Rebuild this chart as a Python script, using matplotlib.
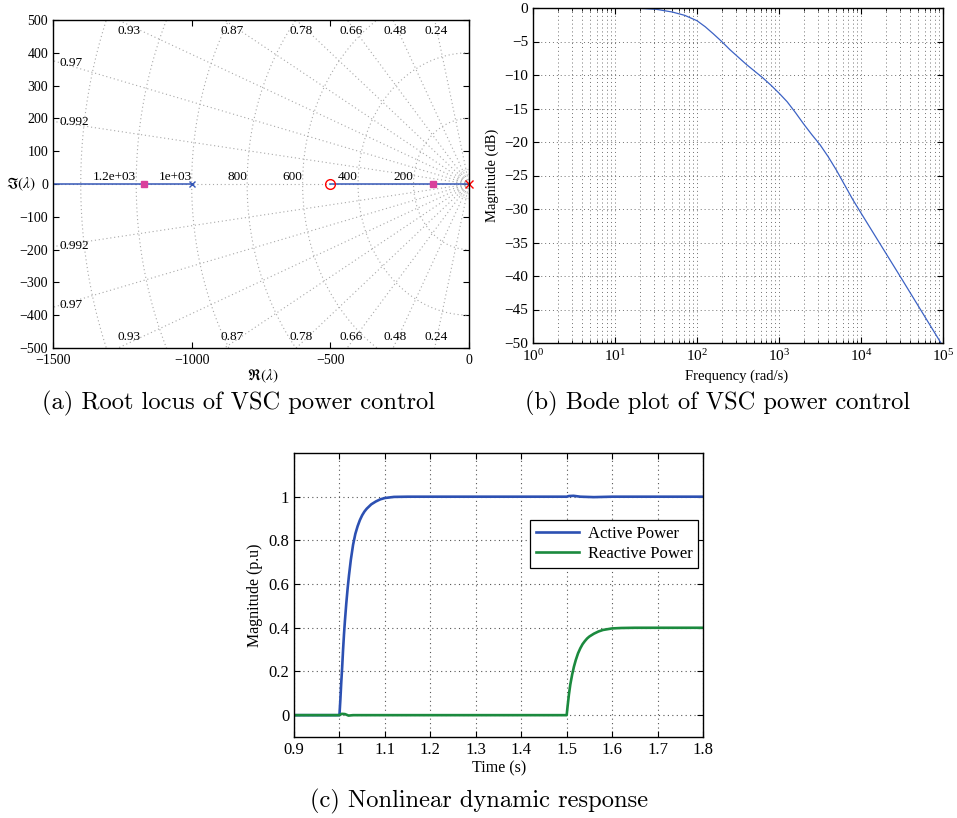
import numpy as np
import matplotlib
matplotlib.use('Agg')
import matplotlib.pyplot as plt
from matplotlib.ticker import LogLocator, NullFormatter, FuncFormatter

# ---------------- data ----------------
# (a) root locus
zeta_values = [0.24, 0.48, 0.66, 0.78, 0.87, 0.93, 0.97, 0.992]
wn_values = [200, 400, 600, 800, 1000, 1200, 1400]
wn_labels = ['200', '400', '600', '800', '1e+03', '1.2e+03', '']
small_wn = [15, 30, 45]
branch1_x = [-1500, -1000]
branch2_x = [-500, 0]
open_pole_blue = [-1000]
open_pole_red = [0]
open_zero_red = [-500]
selected_poles = [-1172, -130]

# (b) bode magnitude
bode_w = [1, 10, 20, 32, 50, 71, 100, 126, 158, 200, 251, 316, 398, 501, 631,
          794, 1000, 1259, 1585, 1995, 2512, 3162, 3981, 5012, 6310, 7943,
          10000, 31623, 100000]
bode_db = [0, -0.01, -0.05, -0.2, -0.6, -1.1, -1.9, -2.8, -3.85, -5.0, -6.2,
           -7.3, -8.4, -9.4, -10.4, -11.5, -12.7, -14.0, -15.6, -17.3, -18.9,
           -20.4, -22.2, -24.2, -26.4, -28.6, -30.6, -40.5, -50.5]

# (c) nonlinear dynamic response
t_p = [0.9, 1.0, 1.002, 1.004, 1.006, 1.008, 1.010, 1.012, 1.015, 1.018,
       1.021, 1.025, 1.03, 1.035, 1.04, 1.045, 1.05, 1.055, 1.06, 1.07, 1.08,
       1.09, 1.1, 1.12, 1.15, 1.5, 1.505, 1.515, 1.53, 1.56, 1.6, 1.8]
p_val = [0, 0, 0.07, 0.15, 0.22, 0.30, 0.37, 0.43, 0.51, 0.58,
         0.64, 0.71, 0.78, 0.83, 0.865, 0.893, 0.915, 0.932, 0.945, 0.965, 0.978,
         0.988, 0.994, 0.999, 1.0, 1.0, 1.003, 1.004, 1.0, 0.998, 1.0, 1.0]
t_q = [0.9, 1.0, 1.005, 1.012, 1.02, 1.03, 1.5, 1.502, 1.505, 1.508, 1.512,
       1.516, 1.52, 1.525, 1.53, 1.535, 1.54, 1.545, 1.55, 1.56, 1.57, 1.58,
       1.6, 1.62, 1.65, 1.8]
q_val = [0, 0, 0.006, 0.005, -0.002, 0, 0, 0.04, 0.095, 0.14, 0.185,
         0.222, 0.252, 0.283, 0.306, 0.325, 0.339, 0.351, 0.36, 0.373, 0.383, 0.39,
         0.397, 0.399, 0.4, 0.4]

# ---------------- style ----------------
plt.rcParams['font.family'] = ['Liberation Serif', 'DejaVu Serif']
plt.rcParams['mathtext.fontset'] = 'stix'
plt.rcParams['xtick.direction'] = 'in'
plt.rcParams['ytick.direction'] = 'in'
plt.rcParams['xtick.top'] = True
plt.rcParams['ytick.right'] = True
plt.rcParams['axes.linewidth'] = 1.0

W, H = 957, 818
fig = plt.figure(figsize=(W / 100, H / 100), dpi=100)


def box(l, t, r, b):
    return [l / W, 1 - b / H, (r - l) / W, (b - t) / H]


# ---------------- (a) root locus ----------------
axa = fig.add_axes(box(53, 20, 469, 348))
axa.set_xlim(-1500, 0)
axa.set_ylim(-500, 500)
gcol = '#a8a8a8'
gls = (0, (1, 2.5))
for z in zeta_values:
    th = np.arccos(z)
    L = 4000
    axa.plot([0, -L * np.cos(th)], [0, L * np.sin(th)], ls=gls, color=gcol, lw=0.8)
    axa.plot([0, -L * np.cos(th)], [0, -L * np.sin(th)], ls=gls, color=gcol, lw=0.8)
    tn = np.tan(th)
    xt = -485 / tn
    if xt > -1460:
        axa.text(xt, 485, f'{z:g}', ha='center', va='top', fontsize=9.5)
        axa.text(xt, -485, f'{z:g}', ha='center', va='bottom', fontsize=9.5)
    else:
        yl = 1475 * tn
        axa.text(-1478, yl, f'{z:g}', ha='left', va='center', fontsize=9.5)
        axa.text(-1478, -yl, f'{z:g}', ha='left', va='center', fontsize=9.5)
axa.plot([-1500, 0], [0, 0], ls=gls, color=gcol, lw=0.8)
ang = np.linspace(np.pi / 2, 3 * np.pi / 2, 300)
for r, lab in zip(wn_values, wn_labels):
    axa.plot(r * np.cos(ang), r * np.sin(ang), ls=gls, color=gcol, lw=0.8)
    if lab:
        axa.text(-r, 4, lab, ha='right', va='bottom', fontsize=9.5)
for r in small_wn:
    axa.plot(r * np.cos(ang), r * np.sin(ang), ls=(0, (1, 1)), color='#b0b0b0', lw=0.5)

lc = '#3557b7'
axa.plot(branch1_x, [0, 0], color=lc, lw=1.1)
axa.plot(branch2_x, [0, 0], color=lc, lw=1.1)
axa.plot(open_pole_blue, [0], marker='x', color=lc, ms=5, mew=1.0, ls='none')
axa.plot(open_pole_red, [0], marker='x', color='red', ms=5.5, mew=1.0, ls='none', clip_on=False)
axa.plot(open_zero_red, [0], marker='o', mfc='none', mec='red', ms=7, mew=1.0, ls='none')
axa.plot(selected_poles, [0, 0], marker='s', color='#d9409c', ms=5, ls='none')
axa.set_xticks([-1500, -1000, -500, 0])
axa.set_yticks(np.arange(-500, 501, 100))
axa.tick_params(labelsize=10, length=4, width=0.8)
axa.tick_params(axis='x', pad=4.5)
fig.text(263 / W, 1 - 376 / H, r'$\Re(\lambda)$', ha='center', va='center', fontsize=11)
fig.text(21 / W, 1 - 184 / H, r'$\Im(\lambda)$', ha='center', va='center', fontsize=11)

# ---------------- (b) bode ----------------
axb = fig.add_axes(box(533, 8, 943, 343))
axb.semilogx(bode_w, bode_db, color='#3c62c4', lw=0.9)
axb.set_xlim(1, 1e5)
axb.set_ylim(-50, 0)
axb.set_yticks(np.arange(-50, 1, 5))
axb.xaxis.set_major_locator(LogLocator(base=10, numticks=10))
axb.xaxis.set_minor_locator(LogLocator(base=10, subs=np.arange(2, 10), numticks=20))
axb.xaxis.set_minor_formatter(NullFormatter())
bgc = '#707070'
bls = (0, (1, 3))
axb.grid(True, which='both', axis='x', ls=bls, color=bgc, lw=0.7)
axb.grid(True, which='major', axis='y', ls=bls, color=bgc, lw=0.7)
axb.tick_params(labelsize=11, length=4, width=0.8)
axb.tick_params(which='minor', length=2, width=0.6)
fig.text(737 / W, 1 - 376 / H, 'Frequency (rad/s)', ha='center', va='center', fontsize=10.5)
fig.text(492 / W, 1 - 175 / H, 'Magnitude (dB)', ha='center', va='center', fontsize=10.5,
         rotation=90)

# ---------------- (c) time response ----------------
axc = fig.add_axes(box(294, 453, 703, 737))
axc.plot(t_p, p_val, color='#2c50b2', lw=1.9, label='Active Power')
axc.plot(t_q, q_val, color='#1b8a3e', lw=1.9, label='Reactive Power')
axc.set_xlim(0.9, 1.8)
axc.set_ylim(-0.1, 1.2)
axc.set_xticks(np.round(np.arange(0.9, 1.81, 0.1), 2))
axc.set_yticks(np.round(np.arange(0, 1.01, 0.2), 2))
fmt = FuncFormatter(lambda v, p: f'{v:g}')
axc.xaxis.set_major_formatter(fmt)
axc.yaxis.set_major_formatter(fmt)
axc.grid(True, ls=bls, color='#555555', lw=0.8)
axc.tick_params(labelsize=12, length=4, width=0.8)
leg = axc.legend(loc='upper right', bbox_to_anchor=(0.988, 0.764), fontsize=12,
                 frameon=True, fancybox=False, edgecolor='black', framealpha=1,
                 handlelength=2.6, borderpad=0.35, labelspacing=0.25, handletextpad=0.5,
                 borderaxespad=0)
leg.get_frame().set_linewidth(0.9)
fig.text(499 / W, 1 - 768 / H, 'Time (s)', ha='center', va='center', fontsize=11.5)
fig.text(255 / W, 1 - 595 / H, 'Magnitude (p.u)', ha='center', va='center', fontsize=11.5,
         rotation=90)

# ---------------- captions ----------------
cfam = ['cmr10', 'DejaVu Serif']
fig.text(238 / W, 1 - 403 / H, '(a) Root locus of VSC power control', ha='center',
         va='center', fontsize=17.6, family=cfam)
fig.text(718 / W, 1 - 403 / H, '(b) Bode plot of VSC power control', ha='center',
         va='center', fontsize=17.6, family=cfam)
fig.text(479 / W, 1 - 801 / H, '(c) Nonlinear dynamic response', ha='center',
         va='center', fontsize=17.6, family=cfam)

fig.savefig('out.png', dpi=100)
